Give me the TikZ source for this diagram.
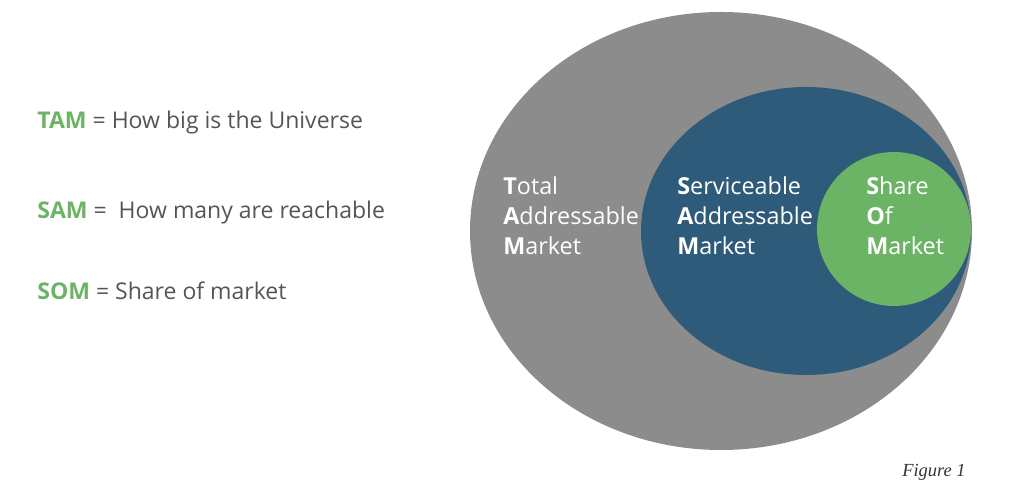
\documentclass[tikz,border=0pt]{standalone}
\usepackage{fontspec}
\setsansfont{Open Sans}
\setmainfont{Liberation Serif}
\usepackage{xcolor}
\usepackage{tikz}
\usetikzlibrary{positioning}
\definecolor{tamgray}{HTML}{8C8C8C}
\definecolor{samblue}{HTML}{2F5B7B}
\definecolor{somgreen}{HTML}{6BB465}
\definecolor{ink}{HTML}{555555}

\begin{document}
\begin{tikzpicture}[x=0.02cm, y=-0.02cm,
  key/.style={anchor=west, font=\sffamily\fontsize{13.1}{15}\selectfont, text=ink, inner sep=0pt},
  lbl/.style={anchor=north west, align=left, text=white, inner sep=0pt,
              font=\sffamily\fontsize{13.3}{17.2}\selectfont}
]
  \useasboundingbox (0,0) rectangle (1035,502);

  % nested markets
  \fill[tamgray] (721,231) ellipse [x radius=251, y radius=219];
  \fill[samblue] (806,231) ellipse [x radius=165, y radius=144];
  \fill[somgreen] (894,229) circle [radius=77];

  \node[lbl] (tam) at (503,176) {\textbf{T}otal\\\textbf{A}ddressable\\\textbf{M}arket};
  \node[lbl] (sam) at (677,176) {\textbf{S}erviceable\\\textbf{A}ddressable\\\textbf{M}arket};
  \node[lbl] (som) at (866,176) {\textbf{S}hare\\\textbf{O}f\\\textbf{M}arket};

  % legend on the left
  \node[key] (ktam) at (37,123) {\textcolor{somgreen}{\textbf{TAM}} = How big is the Universe};
  \node[key] (ksam) at (37,213) {\textcolor{somgreen}{\textbf{SAM}} =\ \ How many are reachable};
  \node[key] (ksom) at (37,291) {\textcolor{somgreen}{\textbf{SOM}} = Share of market};

  \node[anchor=east, font=\itshape\fontsize{10.5}{13}\selectfont, text=black!80, inner sep=0pt] (fig) at (966,472) {Figure 1};
\end{tikzpicture}
\end{document}
